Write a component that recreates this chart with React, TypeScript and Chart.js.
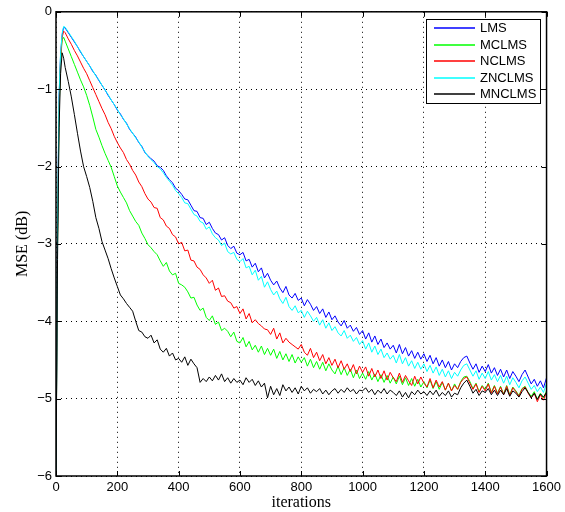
import React, { useEffect, useRef } from 'react';
import { Chart, registerables } from 'chart.js';

Chart.register(...registerables);

// iteration index of each sample
const ITER: number[] = [0, 5, 10, 15, 20, 25, ...Array.from({ length: 158 }, (_, i) => 30 + 10 * i)];

const LMS = [
  -6, -2.8, -1.1, -0.55, -0.3, -0.2,
  -0.21, -0.27, -0.33, -0.39, -0.45, -0.52, -0.58, -0.64, -0.70, -0.77,
  -0.82, -0.89, -0.95, -1.01, -1.08, -1.14, -1.20, -1.27, -1.32, -1.39,
  -1.44, -1.52, -1.57, -1.62, -1.69, -1.74, -1.82, -1.86, -1.90, -1.93,
  -1.99, -2.01, -2.05, -2.12, -2.17, -2.21, -2.28, -2.31, -2.36, -2.42,
  -2.43, -2.50, -2.57, -2.58, -2.66, -2.67, -2.75, -2.72, -2.80, -2.86,
  -2.88, -2.95, -2.92, -3.02, -3.06, -3.03, -3.12, -3.14, -3.11, -3.22,
  -3.20, -3.30, -3.25, -3.36, -3.31, -3.44, -3.38, -3.47, -3.53, -3.48,
  -3.57, -3.63, -3.55, -3.66, -3.70, -3.64, -3.73, -3.70, -3.80, -3.72,
  -3.78, -3.86, -3.81, -3.90, -3.84, -3.95, -3.88, -3.98, -3.93, -4.01,
  -4.06, -3.99, -4.09, -4.05, -4.13, -4.08, -4.17, -4.12, -4.23, -4.15,
  -4.27, -4.19, -4.30, -4.23, -4.34, -4.28, -4.36, -4.31, -4.41, -4.30,
  -4.42, -4.34, -4.45, -4.38, -4.48, -4.40, -4.49, -4.42, -4.52, -4.44,
  -4.55, -4.47, -4.58, -4.50, -4.60, -4.52, -4.63, -4.55, -4.60, -4.52,
  -4.47, -4.45, -4.54, -4.62, -4.55, -4.66, -4.58, -4.65, -4.56, -4.67,
  -4.60, -4.70, -4.62, -4.72, -4.63, -4.74, -4.65, -4.71, -4.78, -4.69,
  -4.63, -4.72, -4.81, -4.75, -4.84, -4.77, -4.86, -4.73,
];

const MCLMS = [
  -6, -3.0, -1.3, -0.65, -0.36, -0.33,
  -0.38, -0.48, -0.58, -0.68, -0.78, -0.88, -0.97, -1.08, -1.21, -1.36,
  -1.52, -1.62, -1.73, -1.83, -1.92, -2.01, -2.13, -2.25, -2.33, -2.40,
  -2.47, -2.57, -2.64, -2.71, -2.76, -2.86, -2.93, -3.01, -3.05, -3.10,
  -3.14, -3.22, -3.29, -3.24, -3.35, -3.40, -3.38, -3.51, -3.53, -3.56,
  -3.62, -3.70, -3.69, -3.79, -3.86, -3.83, -3.95, -3.99, -3.93, -4.04,
  -4.01, -4.12, -4.09, -4.13, -4.20, -4.14, -4.26, -4.28, -4.21, -4.33,
  -4.26, -4.37, -4.31, -4.40, -4.32, -4.43, -4.35, -4.44, -4.36, -4.48,
  -4.39, -4.50, -4.42, -4.52, -4.43, -4.54, -4.46, -4.53, -4.47, -4.58,
  -4.49, -4.60, -4.52, -4.62, -4.53, -4.64, -4.55, -4.63, -4.68, -4.58,
  -4.69, -4.60, -4.70, -4.62, -4.73, -4.63, -4.74, -4.67, -4.75, -4.65,
  -4.76, -4.68, -4.78, -4.69, -4.79, -4.70, -4.80, -4.72, -4.81, -4.71,
  -4.82, -4.73, -4.83, -4.74, -4.84, -4.75, -4.85, -4.78, -4.86, -4.76,
  -4.87, -4.78, -4.88, -4.79, -4.89, -4.80, -4.90, -4.81, -4.88, -4.78,
  -4.72, -4.71, -4.78, -4.87, -4.80, -4.91, -4.83, -4.88, -4.80, -4.92,
  -4.83, -4.93, -4.84, -4.94, -4.83, -4.95, -4.85, -4.90, -4.96, -4.87,
  -4.84, -4.92, -4.97, -4.91, -5.01, -4.93, -4.99, -4.90,
];

const NCLMS = [
  -6, -2.9, -1.2, -0.6, -0.33, -0.25,
  -0.27, -0.35, -0.42, -0.50, -0.57, -0.65, -0.73, -0.80, -0.89, -0.98,
  -1.07, -1.16, -1.25, -1.33, -1.43, -1.51, -1.61, -1.69, -1.76, -1.82,
  -1.91, -1.97, -2.05, -2.11, -2.20, -2.26, -2.35, -2.42, -2.46, -2.53,
  -2.54, -2.66, -2.69, -2.77, -2.80, -2.88, -2.91, -3.00, -2.98, -3.09,
  -3.08, -3.21, -3.22, -3.30, -3.33, -3.40, -3.44, -3.51, -3.47, -3.60,
  -3.57, -3.68, -3.67, -3.74, -3.76, -3.83, -3.81, -3.90, -3.84, -3.97,
  -3.90, -4.02, -3.98, -4.03, -4.06, -4.10, -4.11, -4.17, -4.09, -4.23,
  -4.15, -4.28, -4.22, -4.27, -4.30, -4.33, -4.36, -4.30, -4.40, -4.44,
  -4.35, -4.47, -4.40, -4.51, -4.43, -4.55, -4.47, -4.57, -4.49, -4.60,
  -4.51, -4.62, -4.55, -4.65, -4.56, -4.68, -4.58, -4.66, -4.59, -4.71,
  -4.61, -4.72, -4.63, -4.74, -4.64, -4.76, -4.66, -4.73, -4.78, -4.67,
  -4.79, -4.70, -4.77, -4.83, -4.71, -4.81, -4.72, -4.80, -4.85, -4.74,
  -4.86, -4.76, -4.85, -4.78, -4.89, -4.80, -4.90, -4.83, -4.88, -4.79,
  -4.74, -4.72, -4.80, -4.88, -4.81, -4.92, -4.84, -4.90, -4.81, -4.93,
  -4.84, -4.94, -4.85, -4.95, -4.84, -4.96, -4.86, -4.91, -4.97, -4.88,
  -4.85, -4.93, -4.99, -4.93, -5.04, -4.95, -5.02, -4.92,
];

const ZNCLMS = [
  -6, -2.75, -1.08, -0.53, -0.28, -0.19,
  -0.20, -0.26, -0.32, -0.38, -0.45, -0.51, -0.58, -0.64, -0.70, -0.76,
  -0.83, -0.88, -0.95, -1.01, -1.07, -1.14, -1.20, -1.26, -1.33, -1.38,
  -1.45, -1.51, -1.57, -1.63, -1.68, -1.75, -1.81, -1.87, -1.91, -1.95,
  -2.00, -2.03, -2.08, -2.14, -2.19, -2.24, -2.31, -2.35, -2.40, -2.47,
  -2.48, -2.55, -2.62, -2.64, -2.71, -2.73, -2.81, -2.78, -2.87, -2.92,
  -2.95, -3.02, -2.99, -3.10, -3.13, -3.11, -3.20, -3.23, -3.19, -3.31,
  -3.29, -3.40, -3.34, -3.47, -3.42, -3.56, -3.49, -3.59, -3.66, -3.61,
  -3.71, -3.77, -3.69, -3.81, -3.86, -3.80, -3.89, -3.86, -3.95, -3.87,
  -3.93, -4.00, -3.95, -4.05, -3.98, -4.09, -4.02, -4.12, -4.07, -4.15,
  -4.19, -4.12, -4.22, -4.18, -4.26, -4.21, -4.30, -4.25, -4.36, -4.28,
  -4.40, -4.32, -4.43, -4.36, -4.47, -4.41, -4.49, -4.44, -4.54, -4.43,
  -4.55, -4.47, -4.58, -4.51, -4.61, -4.53, -4.62, -4.55, -4.65, -4.57,
  -4.67, -4.59, -4.70, -4.62, -4.72, -4.64, -4.74, -4.66, -4.71, -4.63,
  -4.57, -4.55, -4.63, -4.71, -4.64, -4.75, -4.67, -4.74, -4.65, -4.76,
  -4.69, -4.78, -4.70, -4.80, -4.71, -4.82, -4.73, -4.79, -4.86, -4.77,
  -4.72, -4.80, -4.88, -4.83, -4.91, -4.85, -4.92, -4.80,
];

const MNCLMS = [
  -6, -3.2, -1.5, -0.8, -0.53, -0.6,
  -0.72, -0.90, -1.10, -1.33, -1.57, -1.80, -2.00, -2.13, -2.27, -2.45,
  -2.66, -2.80, -2.97, -3.08, -3.19, -3.32, -3.44, -3.55, -3.66, -3.71,
  -3.77, -3.82, -3.87, -4.00, -4.12, -4.14, -4.20, -4.22, -4.18, -4.28,
  -4.24, -4.36, -4.40, -4.35, -4.45, -4.41, -4.50, -4.48, -4.53, -4.46,
  -4.57, -4.49, -4.55, -4.60, -4.79, -4.74, -4.78, -4.72, -4.77, -4.70,
  -4.76, -4.68, -4.78, -4.73, -4.80, -4.74, -4.79, -4.76, -4.82, -4.73,
  -4.79, -4.75, -4.83, -4.77, -4.85, -4.80, -4.99, -4.84, -4.95, -4.87,
  -4.96, -4.82, -4.90, -4.85, -4.92, -4.86, -4.94, -4.84, -4.90, -4.86,
  -4.93, -4.88, -4.91, -4.87, -4.94, -4.89, -4.95, -4.90, -4.87, -4.93,
  -4.88, -4.92, -4.86, -4.91, -4.88, -4.94, -4.89, -4.90, -4.86, -4.92,
  -4.88, -4.95, -4.89, -4.93, -4.87, -4.94, -4.89, -4.92, -4.96, -4.90,
  -4.98, -4.92, -4.99, -4.91, -4.95, -4.89, -4.94, -4.91, -4.96, -4.90,
  -4.95, -4.89, -4.97, -4.92, -4.96, -4.90, -4.98, -4.93, -4.95, -4.86,
  -4.80, -4.76, -4.84, -4.93, -4.88, -4.96, -4.90, -4.92, -4.87, -4.95,
  -4.89, -4.96, -4.89, -4.95, -4.87, -4.97, -4.90, -4.93, -4.98, -4.91,
  -4.86, -4.92, -4.99, -4.93, -5.01, -4.94, -4.98, -4.92,
];

const SERIES_NAMES = ['LMS', 'MCLMS', 'NCLMS', 'ZNCLMS', 'MNCLMS'];
const SERIES_VALUES = [LMS, MCLMS, NCLMS, ZNCLMS, MNCLMS];
const SERIES_COLORS = ['#0000ff', '#00ff00', '#ff0000', '#00ffff', '#000000'];

const X_MIN = 0;
const X_MAX = 1600;
const X_STEP = 200;
const Y_MIN = -6;
const Y_MAX = 0;
const Y_STEP = 1;

const SANS = '"Liberation Sans", Arial, Helvetica, sans-serif';
const SERIF = '"Liberation Serif", "Times New Roman", serif';

const framePlugin = {
  id: 'matlabFrame',
  afterDraw(chart: any) {
    const { ctx, chartArea: a, scales } = chart;
    ctx.save();
    ctx.strokeStyle = '#000';
    ctx.lineWidth = 1;
    const tl = 5;
    ctx.beginPath();
    scales.x.ticks.forEach((t: any) => {
      const px = Math.round(scales.x.getPixelForValue(t.value)) + 0.5;
      ctx.moveTo(px, a.bottom);
      ctx.lineTo(px, a.bottom - tl);
      ctx.moveTo(px, a.top);
      ctx.lineTo(px, a.top + tl);
    });
    scales.y.ticks.forEach((t: any) => {
      const py = Math.round(scales.y.getPixelForValue(t.value)) + 0.5;
      ctx.moveTo(a.left, py);
      ctx.lineTo(a.left + tl, py);
      ctx.moveTo(a.right, py);
      ctx.lineTo(a.right - tl, py);
    });
    ctx.stroke();
    ctx.lineWidth = 1.5;
    ctx.strokeRect(a.left, a.top, a.right - a.left, a.bottom - a.top);

    // legend box
    const w = 114;
    const h = 84;
    const x0 = Math.round(a.right - 7 - w);
    const y0 = Math.round(a.top + 7);
    ctx.fillStyle = '#fff';
    ctx.fillRect(x0, y0, w, h);
    ctx.lineWidth = 1;
    ctx.strokeStyle = '#000';
    ctx.strokeRect(x0 + 0.5, y0 + 0.5, w, h);
    ctx.font = '13px ' + SANS;
    ctx.textBaseline = 'middle';
    ctx.textAlign = 'left';
    chart.data.datasets.forEach((ds: any, i: number) => {
      const y = Math.round(y0 + 9 + i * 16.5);
      ctx.strokeStyle = ds.borderColor;
      ctx.lineWidth = 1.5;
      ctx.beginPath();
      ctx.moveTo(x0 + 8, y);
      ctx.lineTo(x0 + 49, y);
      ctx.stroke();
      ctx.fillStyle = '#000';
      ctx.fillText(ds.label, x0 + 54, y);
    });
    ctx.restore();
  },
};

export default function App() {
  const ref = useRef<HTMLCanvasElement>(null);

  useEffect(() => {
    const datasets = SERIES_NAMES.map((name, s) => ({
      label: name,
      data: ITER.map((x, i) => ({ x, y: SERIES_VALUES[s][i] })),
      borderColor: SERIES_COLORS[s],
      backgroundColor: SERIES_COLORS[s],
      borderWidth: 1,
      pointRadius: 0,
      fill: false,
      tension: 0,
      order: SERIES_NAMES.length - s,
    }));

    const chart = new Chart(ref.current as HTMLCanvasElement, {
      type: 'line',
      data: { datasets },
      options: {
        animation: false,
        responsive: false,
        devicePixelRatio: 1,
        layout: { padding: { left: 0, top: 10, right: 18, bottom: 0 } },
        plugins: {
          legend: { display: false },
          tooltip: { enabled: false },
        },
        scales: {
          x: {
            type: 'linear',
            min: X_MIN,
            max: X_MAX,
            ticks: {
              stepSize: X_STEP,
              color: '#000',
              font: { family: SANS, size: 13 },
              padding: 4,
              maxRotation: 0,
              callback: (v: any) => String(v),
            },
            grid: { color: '#000', lineWidth: 1, drawTicks: false },
            border: { display: false, dash: [1, 4] },
            title: {
              display: true,
              text: 'iterations',
              color: '#000',
              font: { family: SERIF, size: 16 },
              padding: { top: 0, bottom: 0 },
            },
            afterFit: (scale: any) => {
              scale.height = 36;
            },
          },
          y: {
            type: 'linear',
            min: Y_MIN,
            max: Y_MAX,
            ticks: {
              stepSize: Y_STEP,
              color: '#000',
              font: { family: SANS, size: 13 },
              padding: 4,
              callback: (v: any) => (Number(v) < 0 ? '\u2212' + Math.abs(Number(v)) : String(v)),
            },
            grid: { color: '#000', lineWidth: 1, drawTicks: false },
            border: { display: false, dash: [1, 4] },
            title: {
              display: true,
              text: 'MSE (dB)',
              color: '#000',
              font: { family: SERIF, size: 16 },
              padding: { top: 13, bottom: 0 },
            },
            afterFit: (scale: any) => {
              scale.width = 56;
            },
          },
        },
      } as any,
      plugins: [framePlugin],
    });

    return () => chart.destroy();
  }, []);

  return (
    <div style={{ position: 'absolute', left: 0, top: 0, width: 565, height: 512, background: '#fff' }}>
      <canvas ref={ref} width={565} height={512} style={{ display: 'block', width: 565, height: 512 }} />
    </div>
  );
}
